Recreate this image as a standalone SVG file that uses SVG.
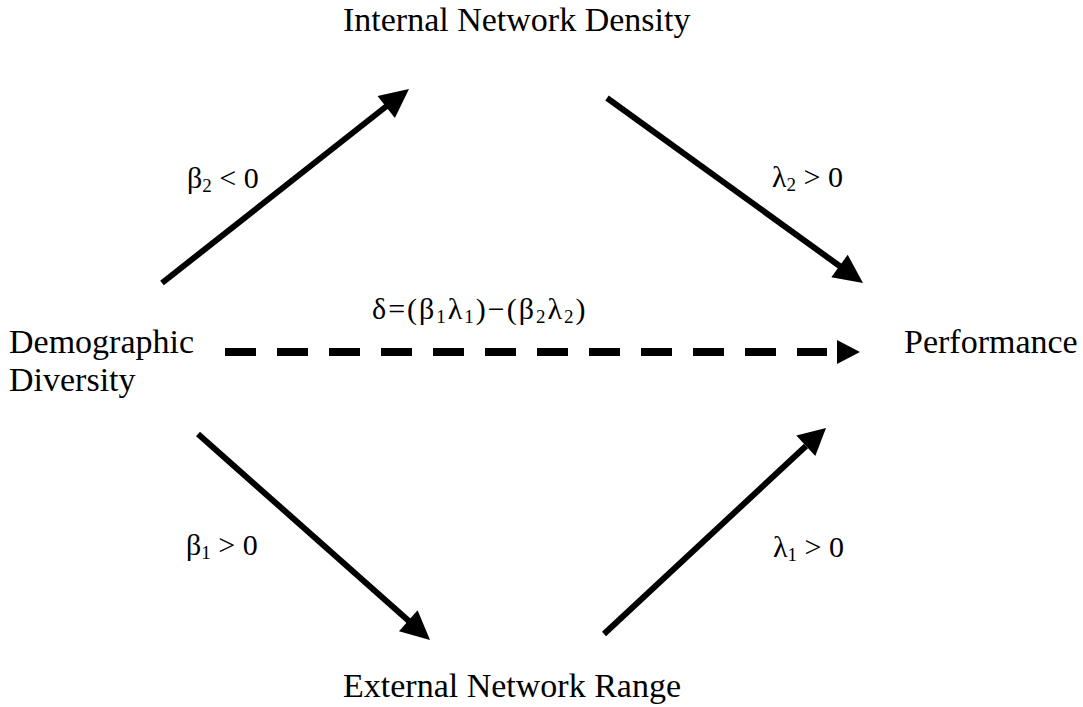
<svg xmlns="http://www.w3.org/2000/svg" width="1083" height="707" viewBox="0 0 1083 707">
<style>
  .node { font-family: "Liberation Serif", "Times New Roman", serif; font-size: 34px; fill: #000; }
  .lbl { font-family: "Liberation Serif", "Times New Roman", serif; font-size: 30px; fill: #000; }
  .sub { font-size: 19px; }
  .delta { letter-spacing: 2px; }
  .shaft { stroke: #000; stroke-width: 6; fill: none; }
  .dash { stroke: #000; stroke-width: 8; fill: none; stroke-dasharray: 31 21; }
  .head { fill: #000; stroke: none; }
</style>
<rect width="1083" height="707" fill="#fff"/>
<g id="node-internal"><text class="node" x="343" y="31">Internal Network Density</text></g>
<g id="node-demographic"><text class="node" x="9" y="353">Demographic</text><text class="node" x="9" y="391">Diversity</text></g>
<g id="node-performance"><text class="node" x="904" y="353">Performance</text></g>
<g id="node-external"><text class="node" x="343" y="697">External Network Range</text></g>
<g id="connectors">
  <line class="shaft" x1="162" y1="283" x2="388" y2="105"/>
  <polygon class="head" points="409,89 394.9,118 377.5,96"/>
  <line class="shaft" x1="607" y1="98" x2="841" y2="267"/>
  <polygon class="head" points="863,283 831.3,277.3 847.7,254.7"/>
  <line class="shaft" x1="198" y1="434" x2="410" y2="622"/>
  <polygon class="head" points="430,640 399,631.2 417.6,610.2"/>
  <line class="shaft" x1="604" y1="634" x2="806" y2="446"/>
  <polygon class="head" points="826,428 796.3,435.5 815.3,456"/>
  <line class="dash" x1="225" y1="352" x2="827" y2="352"/>
  <polygon class="head" points="837,340 860,352 837,364"/>
</g>
<g id="labels">
  <text class="lbl" x="187" y="188">β<tspan class="sub" dy="4">2</tspan><tspan dy="-4"> &lt; 0</tspan></text>
  <text class="lbl" x="772" y="187">λ<tspan class="sub" dy="4">2</tspan><tspan dy="-4"> &gt; 0</tspan></text>
  <text class="lbl" x="186" y="555">β<tspan class="sub" dy="4">1</tspan><tspan dy="-4"> &gt; 0</tspan></text>
  <text class="lbl" x="773" y="557">λ<tspan class="sub" dy="4">1</tspan><tspan dy="-4"> &gt; 0</tspan></text>
  <text class="lbl delta" x="372" y="319">δ=(β<tspan class="sub" dy="4">1</tspan><tspan dy="-4">λ</tspan><tspan class="sub" dy="4">1</tspan><tspan dy="-4">)−(β</tspan><tspan class="sub" dy="4">2</tspan><tspan dy="-4">λ</tspan><tspan class="sub" dy="4">2</tspan><tspan dy="-4">)</tspan></text>
</g>
</svg>
